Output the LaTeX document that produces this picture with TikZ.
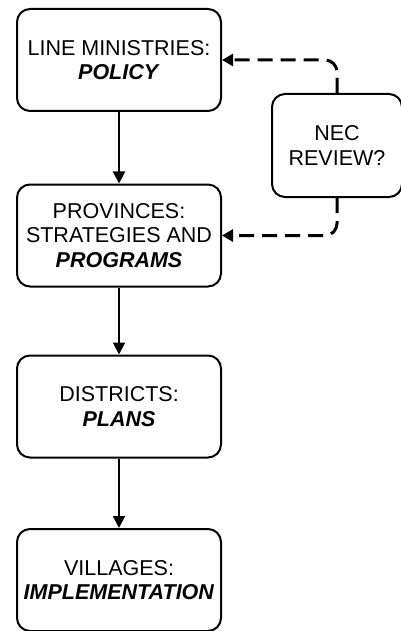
\documentclass[tikz,border=0pt]{standalone}
\usepackage{fontspec}
\setmainfont{Liberation Sans}
\usetikzlibrary{arrows.meta}
\begin{document}
\begin{tikzpicture}[x=1pt,y=-1pt,
    level/.style={draw,line width=2pt,rounded corners=13pt,minimum width=204pt,
      minimum height=102pt,align=center,inner sep=0pt,
      font=\fontsize{21.5}{24.5}\selectfont},
    down/.style={-{Triangle[width=12pt,length=12pt]},line width=2pt},
    review/.style={-{Triangle[width=12pt,length=11pt]},line width=3pt,
      dash pattern=on 15pt off 8pt,rounded corners=12pt}]
        \useasboundingbox (0,0) rectangle (401,631);
        \node[level] (lm) at (119,60) {LINE MINISTRIES:\\\textbf{\textit{POLICY}}};
        \node[level] (prov) at (119,235.5) {PROVINCES:\\STRATEGIES AND\\\textbf{\textit{PROGRAMS}}};
        \node[level] (dist) at (119,406.5) {DISTRICTS:\\\textbf{\textit{PLANS}}};
        \node[level] (vill) at (119,580) {VILLAGES:\\\textbf{\textit{IMPLEMENTATION}}};
        \node[level,minimum width=130pt,minimum height=103pt] (nec) at (337,145.5) {NEC\\REVIEW?};
        \draw[down] (lm) -- (prov);
        \draw[down] (prov) -- (dist);
        \draw[down] (dist) -- (vill);
        \draw[review] (nec.north) |- (lm.east);
        \draw[review] (nec.south) |- (prov.east);
      \end{tikzpicture}
\end{document}
